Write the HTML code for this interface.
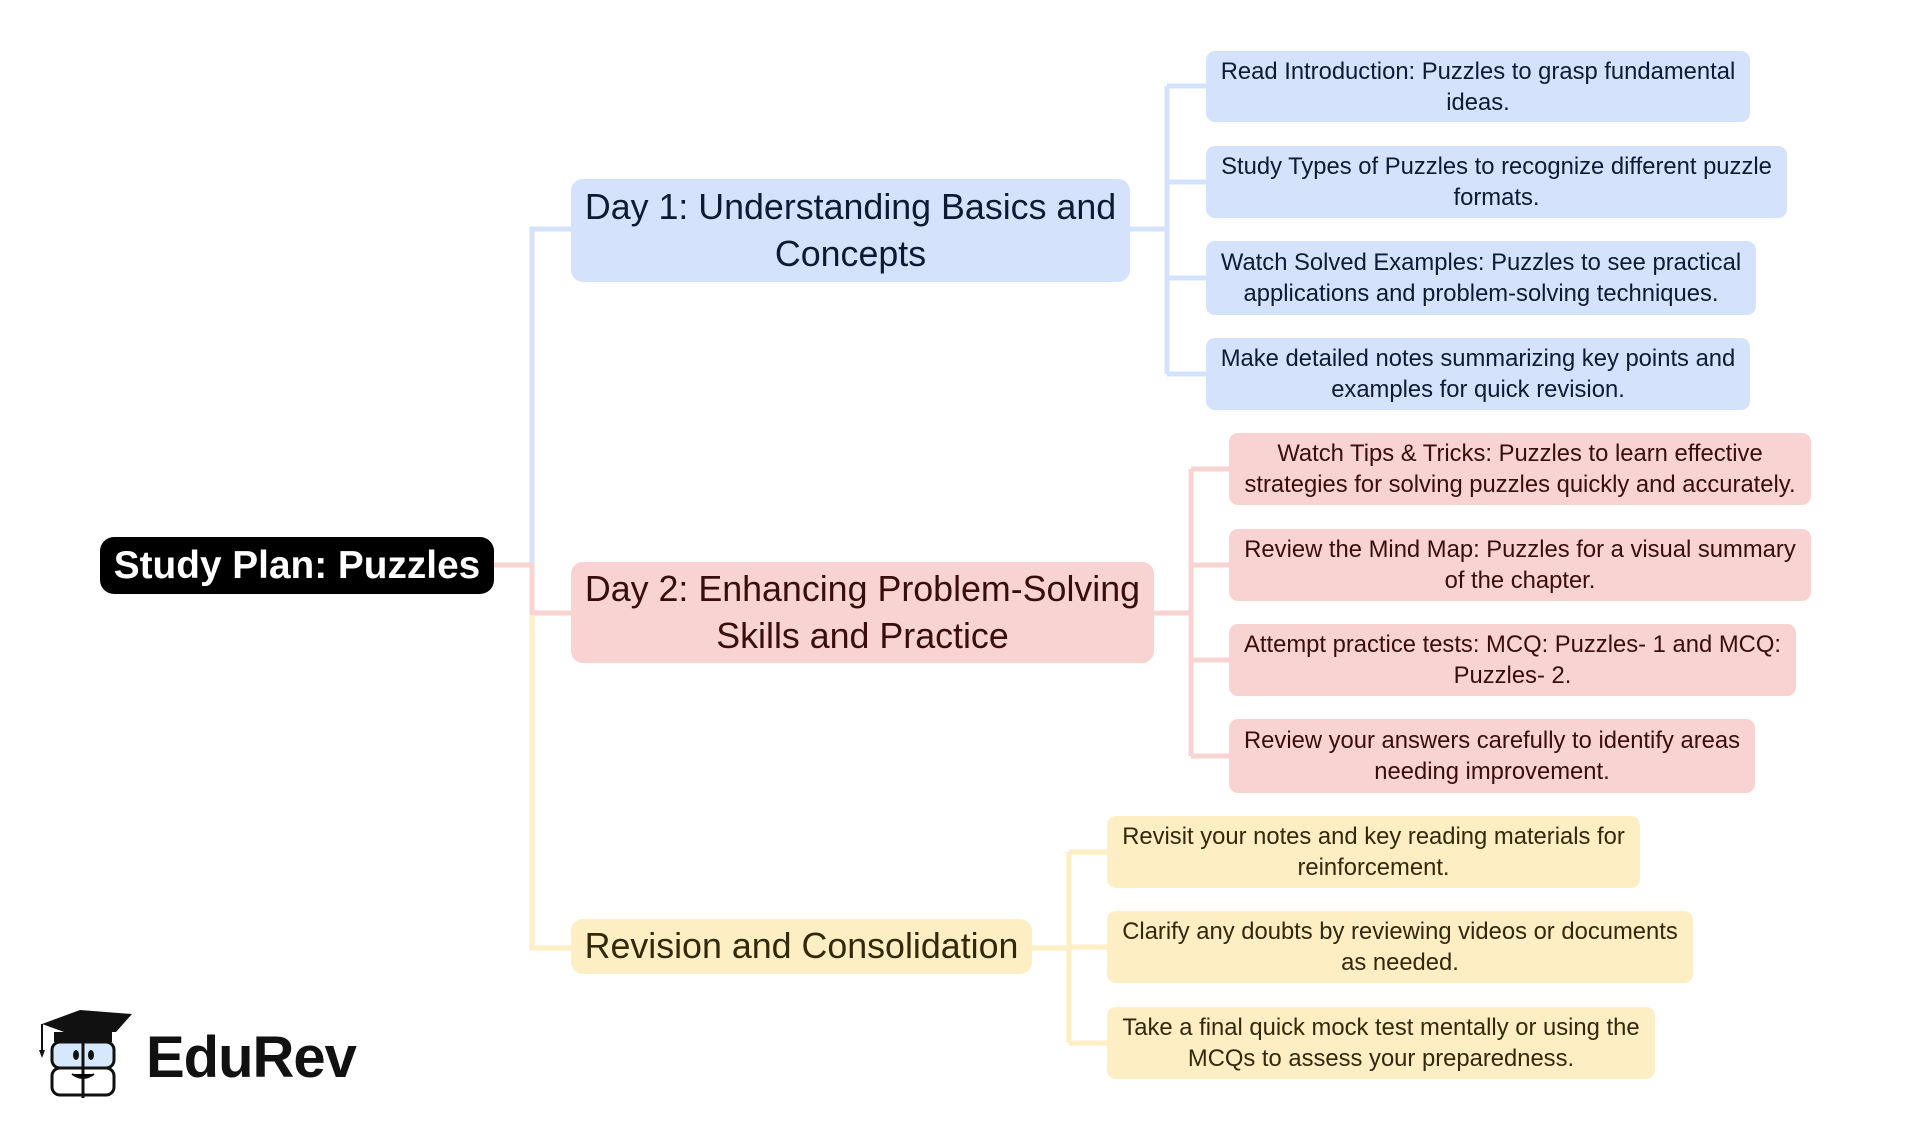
<!DOCTYPE html>
<html><head><meta charset="utf-8"><style>
body{margin:0;width:1914px;height:1131px;background:#fff;position:relative;overflow:hidden;font-family:"Liberation Sans",sans-serif}
.n{position:absolute;box-sizing:border-box;display:flex;align-items:center;justify-content:center;text-align:center;border-radius:12px}
.l{font-size:23.8px;line-height:31px;border-radius:9px;padding:0 6px}
.b{background:#d4e2fc;color:#0e1a33}
.p{background:#f8d3d1;color:#3a0d0d}
.y{background:#fdeec4;color:#33280a}
.m{font-size:35.8px;line-height:47px}
</style></head><body>
<svg width="1914" height="1131" style="position:absolute;left:0;top:0" fill="none" stroke-width="5">
<g stroke="#d4e2fc"><path d="M494 565H532V229H571"/><path d="M1130 229H1167M1167 86V374M1167 86H1206M1167 182H1206M1167 278H1206M1167 374H1206"/></g>
<g stroke="#f8d3d1"><path d="M494 565H532V613H571"/><path d="M1154 613H1191M1191 469V756M1191 469H1229M1191 565H1229M1191 660H1229M1191 756H1229"/></g>
<g stroke="#fdeec4"><path d="M532 616V948H571"/><path d="M1032 948H1069M1069 852V1043M1069 852H1107M1069 947H1107M1069 1043H1107"/></g>
</svg>
<div class="n" style="left:100px;top:537px;width:394px;height:57px;background:#000;color:#fff;font-weight:bold;font-size:38.8px;border-radius:14px">Study Plan: Puzzles</div>
<div class="n b m" style="left:571px;top:179px;width:559px;height:103px">Day 1: Understanding Basics and<br>Concepts</div>
<div class="n p m" style="left:571px;top:562px;width:583px;height:101px">Day 2: Enhancing Problem-Solving<br>Skills and Practice</div>
<div class="n y m" style="left:571px;top:919px;width:461px;height:55px">Revision and Consolidation</div>
<div class="n l b" style="left:1206px;top:51px;width:544px;height:71px">Read Introduction: Puzzles to grasp fundamental ideas.</div>
<div class="n l b" style="left:1206px;top:146px;width:581px;height:72px">Study Types of Puzzles to recognize different puzzle formats.</div>
<div class="n l b" style="left:1206px;top:241px;width:550px;height:74px">Watch Solved Examples: Puzzles to see practical applications and problem-solving techniques.</div>
<div class="n l b" style="left:1206px;top:338px;width:544px;height:72px">Make detailed notes summarizing key points and examples for quick revision.</div>
<div class="n l p" style="left:1229px;top:433px;width:582px;height:72px">Watch Tips &amp; Tricks: Puzzles to learn effective<br>strategies for solving puzzles quickly and accurately.</div>
<div class="n l p" style="left:1229px;top:529px;width:582px;height:72px">Review the Mind Map: Puzzles for a visual summary<br>of the chapter.</div>
<div class="n l p" style="left:1229px;top:624px;width:567px;height:72px">Attempt practice tests: MCQ: Puzzles- 1 and MCQ:<br>Puzzles- 2.</div>
<div class="n l p" style="left:1229px;top:719px;width:526px;height:74px">Review your answers carefully to identify areas<br>needing improvement.</div>
<div class="n l y" style="left:1107px;top:816px;width:533px;height:72px">Revisit your notes and key reading materials for<br>reinforcement.</div>
<div class="n l y" style="left:1107px;top:911px;width:586px;height:72px">Clarify any doubts by reviewing videos or documents<br>as needed.</div>
<div class="n l y" style="left:1107px;top:1007px;width:548px;height:72px">Take a final quick mock test mentally or using the<br>MCQs to assess your preparedness.</div>
<svg width="100" height="90" style="position:absolute;left:36px;top:1008px" viewBox="0 0 100 90">
<path d="M6 16L44 2L96 6L80 24L28 24Z" fill="#111"/><path d="M6 16V42" stroke="#111" stroke-width="2"/><path d="M3 42L6 50L9 42Z" fill="#111"/>
<rect x="18" y="24" width="58" height="10" fill="#111"/>
<rect x="16" y="34" width="62" height="26" rx="8" fill="#d6e8fb" stroke="#111" stroke-width="3"/>
<rect x="16" y="60" width="62" height="27" rx="8" fill="#fff" stroke="#111" stroke-width="3"/>
<path d="M47 34V90" stroke="#111" stroke-width="3"/>
<ellipse cx="40" cy="47" rx="3" ry="5" fill="#111"/><ellipse cx="55" cy="47" rx="3" ry="5" fill="#111"/>
<path d="M36 66Q47 74 58 66" stroke="#111" stroke-width="2"/>
</svg>
<div style="position:absolute;left:146px;top:1024px;font-size:58px;font-weight:bold;color:#111;letter-spacing:-1px">EduRev</div>
</body></html>
